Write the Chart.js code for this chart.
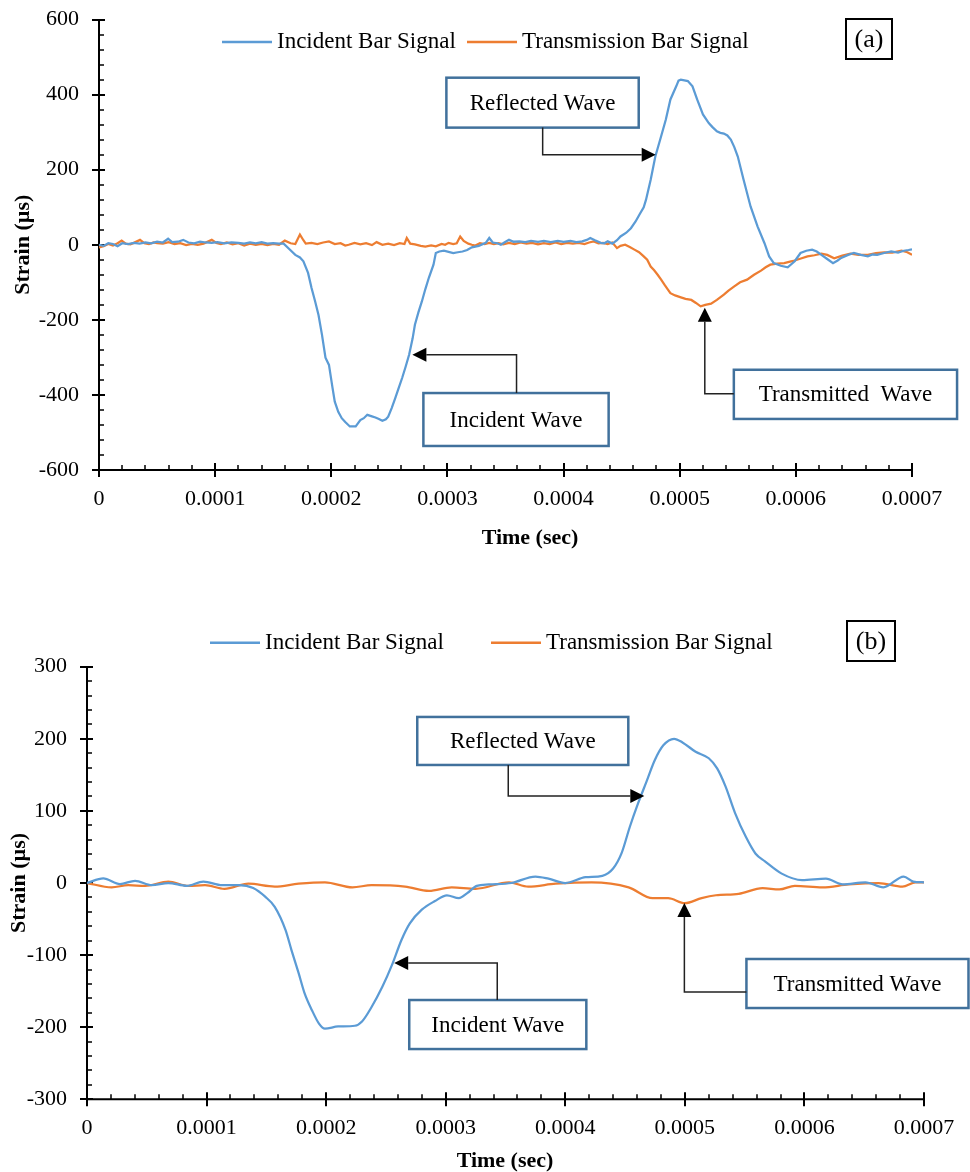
<!DOCTYPE html>
<html>
<head>
<meta charset="utf-8">
<script src="https://cdn.jsdelivr.net/npm/chart.js@4.4.1/dist/chart.umd.min.js"></script>
<style>
  html, body { margin: 0; padding: 0; background: #fff; }
  #wrap { position: relative; width: 970px; height: 1172px; }
  canvas { position: absolute; left: 0; }
  #chartA { top: 0; }
  #chartB { top: 580px; }
</style>
</head>
<body>
<div id="wrap">
  <canvas id="chartA" width="970" height="560"></canvas>
  <canvas id="chartB" width="970" height="592"></canvas>
</div>
<script>
// time is kept in microseconds, axis labels show seconds
const timeTicks = [0, 100, 200, 300, 400, 500, 600, 700];
const timeTickLabels = ['0', '0.0001', '0.0002', '0.0003', '0.0004', '0.0005', '0.0006', '0.0007'];
const strainTicksA = [-600, -400, -200, 0, 200, 400, 600];
const strainTicksB = [-300, -200, -100, 0, 100, 200, 300];
const seriesNames = ['Incident Bar Signal', 'Transmission Bar Signal'];

// (a) incident bar
const incidentA_t = [0, 4, 8, 12, 16, 20, 25, 30, 35, 40, 45, 50, 55, 59.5, 63, 68, 72.5, 77, 82, 87, 92, 97,
  102, 108, 114, 120, 125, 130, 135, 140, 145, 150, 155, 159, 164, 169, 173, 176, 180, 183, 186, 189, 192, 195, 198,
  201, 203, 206, 209, 212, 216, 221, 225, 228, 231, 235, 238, 241, 244, 247, 249, 252, 255, 258, 261, 264, 267, 270,
  272, 275, 278, 281, 284, 288, 290, 293, 297, 301, 305, 309, 313, 317, 321, 327, 333, 336, 339, 343, 346, 349, 353,
  357, 362, 367, 372, 378, 383, 389, 395, 400, 406, 411, 416, 420, 423, 427, 432, 435, 438, 442, 446, 449, 454, 458,
  462, 466, 469, 471, 475, 479, 484, 488, 492, 497, 499, 501, 504, 507, 511, 515, 520, 525, 528, 532, 535, 538, 541,
  544, 547, 550, 555, 561, 567, 573, 577, 581, 587, 593, 599, 604, 609, 614, 618, 622, 627, 632, 636, 639, 645, 650,
  656, 662, 666, 670, 676, 682, 688, 693, 697, 700];
const incidentA_strain = [0, -3, 4, 2, -4, 4, 2, 5, 3, 6, 4, 8, 6, 16, 7, 8, 13, 6, 4, 8, 6, 5,
  7, 4, 6, 5, 3, 6, 4, 7, 3, 4, 3, 3, -12, -27, -34, -44, -75, -115, -150, -187, -240, -301, -320,
  -380, -418, -445, -462, -472, -484, -484, -467, -462, -453, -457, -460, -464, -469, -465, -458, -435, -409, -382, -355, -325, -293, -250,
  -213, -180, -151, -118, -88, -53, -22, -18, -16, -19, -22, -20, -18, -14, -7, -3, 5, 18, 6, 4, 0, 6, 13,
  8, 9, 7, 10, 8, 10, 7, 10, 8, 10, 7, 9, 13, 18, 12, 5, 4, 9, 3, 12, 22, 32, 44,
  62, 84, 100, 120, 173, 235, 289, 333, 387, 422, 437, 440, 438, 436, 422, 387, 347, 324, 314, 302, 298, 296, 291,
  280, 260, 235, 173, 102, 49, 4, -31, -49, -56, -60, -44, -22, -16, -13, -18, -27, -38, -49, -42, -35, -27, -22,
  -27, -31, -26, -27, -22, -18, -21, -16, -14, -12];

// (a) transmission bar
const transmissionA_t = [0, 4, 8, 12, 16, 19.5, 23, 27, 30, 35.3, 39, 43, 47, 50, 55, 60, 65, 70, 75, 80, 85, 90,
  97.1, 101, 105, 110, 115, 120, 125, 130, 135, 140, 145, 150, 155, 160, 165, 169, 173, 176, 178, 183, 188, 193, 198,
  203, 208, 212, 215, 220, 225, 230, 235, 239, 244, 249, 254, 259, 263, 265, 268, 272, 277, 281, 286, 290, 295, 298,
  301, 305, 308, 311, 314, 318, 321, 324, 328, 332, 336, 340, 344, 348, 353, 358, 363, 368, 373, 378, 383, 388, 393,
  398, 403, 408, 413, 418, 422, 426, 430, 434, 438, 442, 446, 449, 453, 457, 461, 465, 469, 472, 475, 478, 481, 484,
  487, 490, 492, 496, 501, 505, 510, 514, 518, 522, 527, 532, 538, 542, 547, 552, 558, 564, 570, 574, 578, 584, 590,
  595, 599, 605, 610, 616, 622, 627, 633, 640, 647, 654, 662, 669, 676, 683, 691, 696, 700];
const transmissionA_strain = [-7, -4, 2, -2, 4, 11, 3, 1, 5, 13, 4, 2, 6, 4, 3, 7, 2, 4, -1, 2, 0, 3,
  13, 5, 2, 6, 1, 4, -2, 3, 0, 2, -1, 2, 0, 11, 4, 2, 27, 12, 3, 5, 2, 6, 9,
  2, 4, -2, 0, 5, 1, 4, -1, 7, 0, 3, -1, 4, 2, 18, 3, 1, -3, -5, -2, -4, 2, 0,
  5, 2, 4, 22, 10, 3, 0, -2, 4, 2, 5, 2, 4, 1, 5, 2, 6, 3, 5, 1, 4, 2, 6,
  2, 5, 3, 5, 2, 6, 9, 4, 5, 2, 6, -9, -3, 0, -6, -13, -20, -31, -40, -58, -68, -80, -93,
  -107, -120, -129, -135, -140, -144, -147, -155, -164, -160, -157, -147, -133, -122, -111, -100, -93, -80, -69, -60, -53, -50, -49,
  -45, -42, -36, -31, -28, -24, -27, -36, -29, -24, -27, -27, -22, -20, -21, -16, -20, -27];

// (b) incident bar
const incidentB_t = [0, 13.6, 27.6, 40.2, 54.1, 68, 83.4, 97.3, 113, 127, 139, 149, 157, 166, 171, 177, 182, 188, 194, 199,
  210, 224, 230, 238, 247, 255, 263, 270, 280, 291, 301, 311, 318, 326, 336, 355, 375, 386, 400, 417, 431, 440,
  447, 454, 461, 468, 475, 482, 491, 498, 509, 520, 527, 534, 542, 551, 559, 567, 581, 598, 618, 632, 651, 666,
  683, 691, 700];
const incidentB_strain = [0, 6.5, -1.4, 3, -3, 0, -4, 2, -3, -3, -7, -19, -33, -65, -93, -125, -153, -176, -195, -202,
  -199, -198, -192, -172, -144, -114, -79, -56, -37, -25, -17, -21, -14, -4, -2, 0, 9, 6, 0, 8, 10, 20,
  41, 78, 111, 141, 171, 191, 200, 195, 182, 173, 159, 134, 97, 64, 41, 30, 13, 4, 6, -2, 1, -6,
  9, 2, 1];

// (b) transmission bar
const transmissionB_t = [0, 20.6, 34.6, 48.5, 68, 84.8, 98.7, 115, 135, 157, 177, 199, 222, 238, 266, 286, 305, 325,
  353, 369, 392, 422, 453, 473, 486, 500, 514, 526, 545, 565, 579, 592, 615, 637, 662, 682, 693, 700];
const transmissionB_strain = [0, -6, -3, -4, 2, -4, -3, -8, -1, -5, -1, 1, -6, -3, -5, -11, -6, -8,
  1, -5, -1, 1, -6, -21, -21, -28, -21, -17, -15, -7, -9, -4, -6, -2, 0, -5, 1, 1];

const BLUE = '#5B9BD5';
const ORANGE = '#ED7D31';
const FONT = "'Liberation Serif', 'Times New Roman', serif";

const toPoints = (ts, vs) => ts.map((t, i) => ({ x: t, y: vs[i] }));

// axes, legend, panel tag and callouts drawn on top of the chart
const paperPlugin = {
  id: 'paper',
  beforeDatasetsDraw(chart, args, o) {
    const { ctx, chartArea: a, scales: { x, y } } = chart;
    ctx.save();
    ctx.strokeStyle = '#000';
    ctx.lineWidth = 2;
    ctx.beginPath();
    ctx.moveTo(a.left, a.top);
    ctx.lineTo(a.left, a.bottom);
    ctx.lineTo(a.right, a.bottom);
    ctx.stroke();

    ctx.lineWidth = 1.5;
    ctx.beginPath();
    for (let v = y.min; v <= y.max + 1e-6; v += o.yMinor) {
      const py = Math.round(y.getPixelForValue(v));
      ctx.moveTo(a.left, py); ctx.lineTo(a.left + 5, py);
    }
    for (let v = x.min; v <= x.max + 1e-6; v += o.xMinor) {
      const px = Math.round(x.getPixelForValue(v));
      ctx.moveTo(px, a.bottom); ctx.lineTo(px, a.bottom - 5);
    }
    ctx.stroke();
    ctx.lineWidth = 2;
    ctx.beginPath();
    o.yTicks.forEach(v => {
      const py = Math.round(y.getPixelForValue(v));
      ctx.moveTo(a.left - 7, py); ctx.lineTo(a.left + 6, py);
    });
    timeTicks.forEach(v => {
      const px = Math.round(x.getPixelForValue(v));
      ctx.moveTo(px, a.bottom - 7); ctx.lineTo(px, a.bottom + 7);
    });
    ctx.stroke();
    ctx.restore();
  },
  afterDraw(chart, args, o) {
    const { ctx, chartArea: a, scales: { x, y } } = chart;
    ctx.save();

    // axis titles
    ctx.fillStyle = '#000';
    ctx.font = `bold 22px ${FONT}`;
    ctx.textAlign = 'center';
    ctx.textBaseline = 'middle';
    ctx.fillText('Time (sec)', o.xTitle[0], o.xTitle[1]);
    ctx.save();
    ctx.translate(o.yTitleX, (a.top + a.bottom) / 2);
    ctx.rotate(-Math.PI / 2);
    ctx.fillText('Strain (µs)', 0, 0);
    ctx.restore();

    // legend
    ctx.font = `23px ${FONT}`;
    ctx.textAlign = 'left';
    chart.data.datasets.forEach((ds, i) => {
      const lx = o.legendX[i];
      ctx.strokeStyle = ds.borderColor;
      ctx.lineWidth = 2.5;
      ctx.beginPath();
      ctx.moveTo(lx, o.legendY); ctx.lineTo(lx + 50, o.legendY);
      ctx.stroke();
      ctx.fillText(ds.label, lx + 55, o.legendY);
    });

    // panel tag
    const [tx0, ty0, tx1, ty1] = o.tagBox;
    ctx.strokeStyle = '#000';
    ctx.lineWidth = 2;
    ctx.strokeRect(tx0, ty0, tx1 - tx0, ty1 - ty0);
    ctx.font = `26px ${FONT}`;
    ctx.textAlign = 'center';
    ctx.fillText(o.tag, (tx0 + tx1) / 2, (ty0 + ty1) / 2 + 1);

    // callouts, placed in data units
    o.callouts.forEach(c => {
      const bx0 = x.getPixelForValue(c.box[0]), by0 = y.getPixelForValue(c.box[1]);
      const bx1 = x.getPixelForValue(c.box[2]), by1 = y.getPixelForValue(c.box[3]);
      ctx.fillStyle = '#fff';
      ctx.fillRect(bx0, by0, bx1 - bx0, by1 - by0);
      ctx.strokeStyle = '#41719C';
      ctx.lineWidth = 2.5;
      ctx.strokeRect(bx0, by0, bx1 - bx0, by1 - by0);
      ctx.fillStyle = '#000';
      ctx.font = `23px ${FONT}`;
      ctx.fillText(c.text, (bx0 + bx1) / 2, (by0 + by1) / 2 + 1);

      const pts = c.path.map(p => [x.getPixelForValue(p[0]), y.getPixelForValue(p[1])]);
      const [ex, ey] = pts[pts.length - 1];
      const [sx, sy] = pts[pts.length - 2];
      const len = Math.hypot(ex - sx, ey - sy);
      const ux = (ex - sx) / len, uy = (ey - sy) / len;
      const head = 14, half = 7;
      ctx.strokeStyle = '#222';
      ctx.lineWidth = 1.5;
      ctx.beginPath();
      ctx.moveTo(pts[0][0], pts[0][1]);
      for (let i = 1; i < pts.length - 1; i++) ctx.lineTo(pts[i][0], pts[i][1]);
      ctx.lineTo(ex - ux * head, ey - uy * head);
      ctx.stroke();
      ctx.fillStyle = '#000';
      ctx.beginPath();
      ctx.moveTo(ex, ey);
      ctx.lineTo(ex - ux * head - uy * half, ey - uy * head + ux * half);
      ctx.lineTo(ex - ux * head + uy * half, ey - uy * head - ux * half);
      ctx.closePath();
      ctx.fill();
    });
    ctx.restore();
  }
};

function makeChart(id, cfg) {
  const tickFont = { family: FONT, size: 22 };
  return new Chart(document.getElementById(id), {
    type: 'line',
    data: {
      datasets: [
        { label: seriesNames[0], data: toPoints(cfg.inc[0], cfg.inc[1]), borderColor: BLUE },
        { label: seriesNames[1], data: toPoints(cfg.tra[0], cfg.tra[1]), borderColor: ORANGE }
      ].map(ds => Object.assign(ds, {
        borderWidth: 2.25, pointRadius: 0, fill: false,
        tension: cfg.smooth ? 0.4 : 0,
        cubicInterpolationMode: cfg.smooth ? 'monotone' : 'default'
      }))
    },
    options: {
      responsive: false,
      animation: false,
      layout: { padding: { left: 0, top: cfg.padTop, right: cfg.padRight, bottom: 0 } },
      plugins: {
        legend: { display: false },
        tooltip: { enabled: false },
        paper: cfg.paper
      },
      scales: {
        x: {
          type: 'linear', min: 0, max: 700,
          afterBuildTicks: s => { s.ticks = timeTicks.map(v => ({ value: v })); },
          afterFit: s => { s.height = cfg.xAxisHeight; s.paddingLeft = 0; s.paddingRight = 0; },
          ticks: { callback: (v, i) => timeTickLabels[i], font: tickFont, color: '#000', padding: 8, maxRotation: 0, autoSkip: false },
          grid: { display: false },
          border: { display: false }
        },
        y: {
          min: cfg.yTicks[0], max: cfg.yTicks[cfg.yTicks.length - 1],
          afterBuildTicks: s => { s.ticks = cfg.yTicks.map(v => ({ value: v })); },
          afterFit: s => { s.width = cfg.yAxisWidth; s.paddingTop = 0; s.paddingBottom = 0; },
          ticks: { font: tickFont, color: '#000', padding: 12 },
          grid: { display: false },
          border: { display: false }
        }
      }
    },
    plugins: [paperPlugin]
  });
}

makeChart('chartA', {
  inc: [incidentA_t, incidentA_strain],
  tra: [transmissionA_t, transmissionA_strain],
  smooth: false,
  yTicks: strainTicksA,
  padTop: 19.5, padRight: 58, xAxisHeight: 90, yAxisWidth: 99,
  paper: {
    yTicks: strainTicksA, yMinor: 40, xMinor: 20,
    xTitle: [530, 538], yTitleX: 23,
    legendX: [222, 467], legendY: 42,
    tag: '(a)', tagBox: [846, 19, 892, 59],
    callouts: [
      { text: 'Reflected Wave', box: [299.1, 445, 464.7, 312], path: [[382, 312], [382, 240], [479.3, 240]] },
      { text: 'Incident Wave', box: [279.3, -395, 438.8, -536], path: [[359.5, -395], [359.5, -293], [269.8, -293]] },
      { text: 'Transmitted  Wave', box: [546.6, -333, 738.8, -464], path: [[546.6, -397], [521.6, -397], [521.6, -168]] }
    ]
  }
});

makeChart('chartB', {
  inc: [incidentB_t, incidentB_strain],
  tra: [transmissionB_t, transmissionB_strain],
  smooth: true,
  yTicks: strainTicksB,
  padTop: 86.7, padRight: 46, xAxisHeight: 72.7, yAxisWidth: 87,
  paper: {
    yTicks: strainTicksB, yMinor: 20, xMinor: 20,
    xTitle: [505, 581.7], yTitleX: 19,
    legendX: [210, 491], legendY: 62.7,
    tag: '(b)', tagBox: [847, 41, 895, 81],
    callouts: [
      { text: 'Reflected Wave', box: [276.2, 230.3, 452.7, 163.7], path: [[352.3, 163.7], [352.3, 120.7], [466.1, 120.7]] },
      { text: 'Incident Wave', box: [269.5, -162.3, 417.6, -230.3], path: [[343.1, -162.3], [343.1, -111], [256.9, -111]] },
      { text: 'Transmitted Wave', box: [551.5, -105.4, 737.2, -173.4], path: [[551.5, -151.2], [499.6, -151.2], [499.6, -27.7]] }
    ]
  }
});
</script>
</body>
</html>
